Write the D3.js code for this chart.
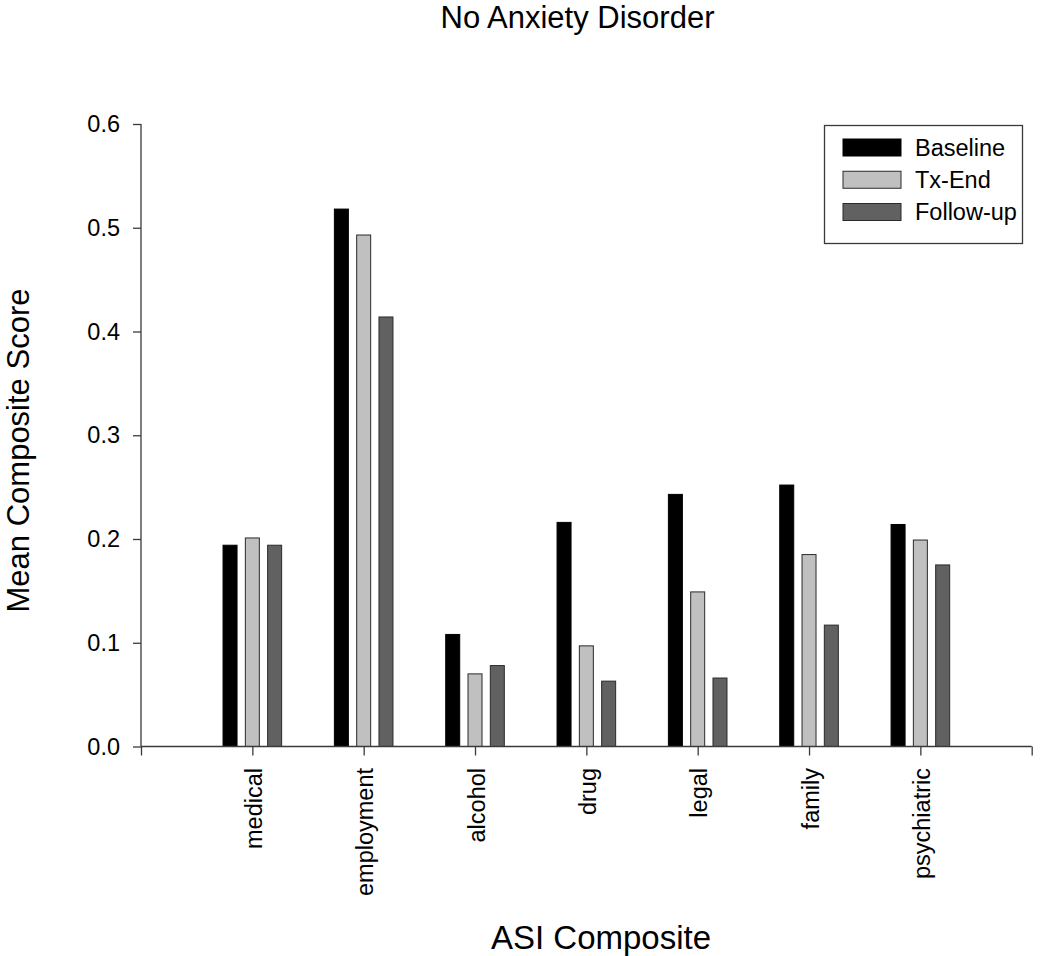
<!DOCTYPE html>
<html>
<head>
<meta charset="utf-8">
<script src="https://cdn.jsdelivr.net/npm/d3@7/dist/d3.min.js"></script>
<style>
  html, body { margin: 0; padding: 0; background: #fff; }
  svg { display: block; font-family: "Liberation Sans", Arial, Helvetica, sans-serif; }
</style>
</head>
<body>
<svg id="chart" width="1050" height="956"></svg>
<script>
// ---- data ----
const categories = ["medical", "employment", "alcohol", "drug", "legal", "family", "psychiatric"];
const seriesNames = ["Baseline", "Tx-End", "Follow-up"];
const baseline = [0.194, 0.518, 0.108, 0.216, 0.243, 0.252, 0.214];
const txEnd    = [0.201, 0.493, 0.070, 0.097, 0.149, 0.185, 0.199];
const followUp = [0.194, 0.414, 0.078, 0.063, 0.066, 0.117, 0.175];
const yTicks = [0.0, 0.1, 0.2, 0.3, 0.4, 0.5, 0.6];
const title = "No Anxiety Disorder";
const xTitle = "ASI Composite";
const yTitle = "Mean Composite Score";

const seriesValues = [baseline, txEnd, followUp];
const fills = ["#000000", "#c0c0c0", "#616161"];
const strokes = ["#000000", "#2a2a2a", "#2a2a2a"];

const svg = d3.select("#chart");
const axisColor = "#3a3a3a";

// ---- scales ----
const x = d3.scaleLinear().domain([0, categories.length + 1]).range([141, 1031.7]);
const y = d3.scaleLinear().domain([0, 0.6]).range([746.5, 124]);
const offset = d3.scalePoint().domain(seriesNames).range([-22.3, 22.3]);
const barW = 14;

// ---- bars ----
seriesNames.forEach((s, si) => {
  svg.append("g").selectAll("rect")
    .data(seriesValues[si])
    .join("rect")
    .attr("x", (d, i) => x(i + 1) + offset(s) - barW / 2)
    .attr("y", d => y(d))
    .attr("width", barW)
    .attr("height", d => y(0) - y(d))
    .attr("fill", fills[si])
    .attr("stroke", strokes[si])
    .attr("stroke-width", 1);
});

// ---- y axis ----
const yAxis = d3.axisLeft(y).tickValues(yTicks).tickFormat(d3.format(".1f")).tickSize(8).tickPadding(13);
const gy = svg.append("g").attr("transform", "translate(141,0)").call(yAxis);
gy.select(".domain").attr("stroke", axisColor).attr("stroke-width", 1.3).attr("d", `M0,${y(0.6)}V${y(0)}`);
gy.selectAll(".tick line").attr("stroke", axisColor).attr("stroke-width", 1.3);
gy.selectAll(".tick text").attr("font-size", 23.5).attr("fill", "#000")
  .attr("font-family", "'Liberation Sans', Arial, sans-serif");

// ---- x axis ----
const xTickVals = d3.range(0, categories.length + 2);
const xAxis = d3.axisBottom(x).tickValues(xTickVals).tickSize(9).tickFormat("");
const gx = svg.append("g").attr("transform", `translate(0,${y(0)})`).call(xAxis);
gx.select(".domain").attr("stroke", axisColor).attr("stroke-width", 1.3).attr("d", `M${x(0)},0H${x(categories.length + 1)}`);
gx.selectAll(".tick line").attr("stroke", axisColor).attr("stroke-width", 1.3);

// category labels (rotated)
svg.append("g").selectAll("text")
  .data(categories)
  .join("text")
  .attr("transform", (d, i) => `translate(${x(i + 1) + 9.5},768) rotate(-90)`)
  .attr("text-anchor", "end")
  .attr("font-size", 23.5)
  .attr("fill", "#000")
  .text(d => d);

// ---- titles ----
svg.append("text").attr("x", 577.5).attr("y", 28).attr("text-anchor", "middle")
  .attr("font-size", 31).attr("fill", "#000").text(title);
svg.append("text").attr("x", 601).attr("y", 949).attr("text-anchor", "middle")
  .attr("font-size", 33).attr("fill", "#000").text(xTitle);
svg.append("text").attr("transform", "translate(28.5,450.5) rotate(-90)").attr("text-anchor", "middle")
  .attr("font-size", 31).attr("fill", "#000").text(yTitle);

// ---- legend ----
const lg = svg.append("g");
lg.append("rect").attr("x", 824.5).attr("y", 125.5).attr("width", 198).attr("height", 118)
  .attr("fill", "#fff").attr("stroke", axisColor).attr("stroke-width", 1.3);
const legY = d3.scalePoint().domain(seriesNames).range([147.5, 212]);
seriesNames.forEach((s, si) => {
  lg.append("rect").attr("x", 843).attr("y", legY(s) - 8.5).attr("width", 58).attr("height", 17)
    .attr("fill", fills[si]).attr("stroke", strokes[si]).attr("stroke-width", 1);
  lg.append("text").attr("x", 915).attr("y", legY(s)).attr("dy", "0.35em")
    .attr("font-size", 23.5).attr("fill", "#000").text(s);
});
</script>
</body>
</html>
